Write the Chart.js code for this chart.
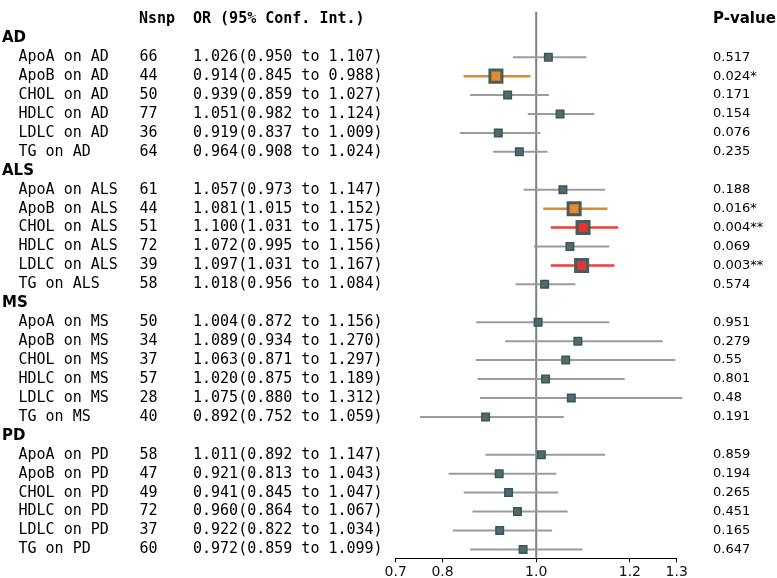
<!DOCTYPE html>
<html>
<head>
<meta charset="utf-8">
<script src="https://cdn.jsdelivr.net/npm/chart.js@4.4.1/dist/chart.umd.min.js"></script>
<style>
  html, body { margin: 0; padding: 0; background: #fff; }
  #wrap { width: 777px; height: 578px; position: relative; }
</style>
</head>
<body>
<div id="wrap"><canvas id="myChart"></canvas></div>
<script>
const outcomes = ['AD', 'ALS', 'MS', 'PD'];
const exposures = ['ApoA', 'ApoB', 'CHOL', 'HDLC', 'LDLC', 'TG'];
const nsnp = [66, 44, 50, 77, 36, 64,
              61, 44, 51, 72, 39, 58,
              50, 34, 37, 57, 28, 40,
              58, 47, 49, 72, 37, 60];
const orValues = [1.026, 0.914, 0.939, 1.051, 0.919, 0.964,
                  1.057, 1.081, 1.100, 1.072, 1.097, 1.018,
                  1.004, 1.089, 1.063, 1.020, 1.075, 0.892,
                  1.011, 0.921, 0.941, 0.960, 0.922, 0.972];
const lowerCI = [0.950, 0.845, 0.859, 0.982, 0.837, 0.908,
                 0.973, 1.015, 1.031, 0.995, 1.031, 0.956,
                 0.872, 0.934, 0.871, 0.875, 0.880, 0.752,
                 0.892, 0.813, 0.845, 0.864, 0.822, 0.859];
const upperCI = [1.107, 0.988, 1.027, 1.124, 1.009, 1.024,
                 1.147, 1.152, 1.175, 1.156, 1.167, 1.084,
                 1.156, 1.270, 1.297, 1.189, 1.312, 1.059,
                 1.147, 1.043, 1.047, 1.067, 1.034, 1.099];
const pValues = ['0.517', '0.024*', '0.171', '0.154', '0.076', '0.235',
                 '0.188', '0.016*', '0.004**', '0.069', '0.003**', '0.574',
                 '0.951', '0.279', '0.55', '0.801', '0.48', '0.191',
                 '0.859', '0.194', '0.265', '0.451', '0.165', '0.647'];
const tickValues = [0.7, 0.8, 1.0, 1.2, 1.3];

// row 0 is the column header, each outcome gets a header row then its exposures
const groupRows = [];
const itemRows = [];
outcomes.forEach(function (g, gi) {
    groupRows.push(1 + gi * 7);
    exposures.forEach(function (e, ei) {
        itemRows.push(2 + gi * 7 + ei);
    });
});
const yMin = -0.414;
const yMax = 28.47;

function levelOf(p) {
    if (p.indexOf('**') >= 0) return 2;
    if (p.indexOf('*') >= 0) return 1;
    return 0;
}

const lineColors = ['rgb(155,155,155)', 'rgb(224,138,46)', 'rgb(240,60,60)'];
const fillColors = ['rgb(78,108,106)', 'rgb(225,140,50)', 'rgb(238,48,48)'];

const datasets = [];
datasets.push({
    data: [{ x: 1, y: yMin }, { x: 1, y: yMax }],
    showLine: true,
    borderColor: 'rgb(128,128,128)',
    borderWidth: 2,
    pointRadius: 0,
    order: 3
});
itemRows.forEach(function (row, i) {
    const lv = levelOf(pValues[i]);
    datasets.push({
        data: [{ x: lowerCI[i], y: row }, { x: upperCI[i], y: row }],
        showLine: true,
        borderColor: lineColors[lv],
        borderWidth: lv ? 2.5 : 2,
        pointRadius: 0,
        clip: false,
        order: 2
    });
});
datasets.push({
    data: itemRows.map(function (row, i) { return { x: orValues[i], y: row }; }),
    pointStyle: 'rect',
    pointRadius: pValues.map(function (p) { return levelOf(p) ? 8.5 : 5.3; }),
    pointBorderWidth: pValues.map(function (p) { return levelOf(p) ? 3 : 1.5; }),
    pointBackgroundColor: pValues.map(function (p) { return fillColors[levelOf(p)]; }),
    pointBorderColor: pValues.map(function (p) { return levelOf(p) ? 'rgb(72,92,92)' : 'rgb(60,86,86)'; }),
    order: 1
});

const textColumns = {
    id: 'textColumns',
    afterDraw(chart) {
        const ctx = chart.ctx;
        const y = chart.scales.y;
        ctx.save();
        ctx.fillStyle = '#000';
        ctx.textBaseline = 'middle';
        ctx.textAlign = 'left';
        const y0 = y.getPixelForValue(0);
        ctx.font = 'bold 15px "DejaVu Sans Mono"';
        ctx.fillText('Nsnp', 139, y0);
        ctx.fillText('OR (95% Conf. Int.)', 193, y0);
        ctx.font = 'bold 15px "DejaVu Sans"';
        ctx.fillText('P-value', 713, y0);
        outcomes.forEach(function (g, gi) {
            ctx.font = 'bold 15px "DejaVu Sans"';
            ctx.fillText(g, 2, y.getPixelForValue(groupRows[gi]));
        });
        itemRows.forEach(function (row, i) {
            const py = y.getPixelForValue(row);
            const label = exposures[i % 6] + ' on ' + outcomes[Math.floor(i / 6)];
            ctx.font = '15px "DejaVu Sans Mono"';
            ctx.fillText(label, 18.5, py);
            ctx.fillText(String(nsnp[i]), 139.5, py);
            ctx.fillText(orValues[i].toFixed(3) + '(' + lowerCI[i].toFixed(3) + ' to ' + upperCI[i].toFixed(3) + ')', 193, py);
            ctx.font = '13px "DejaVu Sans"';
            ctx.fillText(pValues[i], 713, py);
        });
        ctx.restore();
    }
};

const ctx = document.getElementById('myChart').getContext('2d');
const myChart = new Chart(ctx, {
    type: 'scatter',
    data: { datasets: datasets },
    options: {
        responsive: true,
        maintainAspectRatio: false,
        animation: false,
        events: [],
        layout: { padding: { left: 395.7, right: 100.3, top: 0, bottom: 0 } },
        plugins: { legend: { display: false }, tooltip: { enabled: false } },
        scales: {
            x: {
                type: 'linear',
                min: 0.7,
                max: 1.3,
                afterBuildTicks: function (scale) {
                    scale.ticks = tickValues.map(function (v) { return { value: v }; });
                },
                afterFit: function (scale) { scale.height = 19.7; },
                ticks: {
                    autoSkip: false,
                    maxRotation: 0,
                    padding: 2,
                    color: '#111',
                    font: { family: 'DejaVu Sans', size: 14 },
                    callback: function (v) { return Number(v).toFixed(1); }
                },
                grid: { display: true, drawOnChartArea: false, drawTicks: true, tickLength: 4, color: '#000' },
                border: { display: true, color: '#000', width: 1 }
            },
            y: {
                type: 'linear',
                display: false,
                reverse: true,
                min: yMin,
                max: yMax
            }
        }
    },
    plugins: [textColumns]
});
</script>
</body>
</html>
